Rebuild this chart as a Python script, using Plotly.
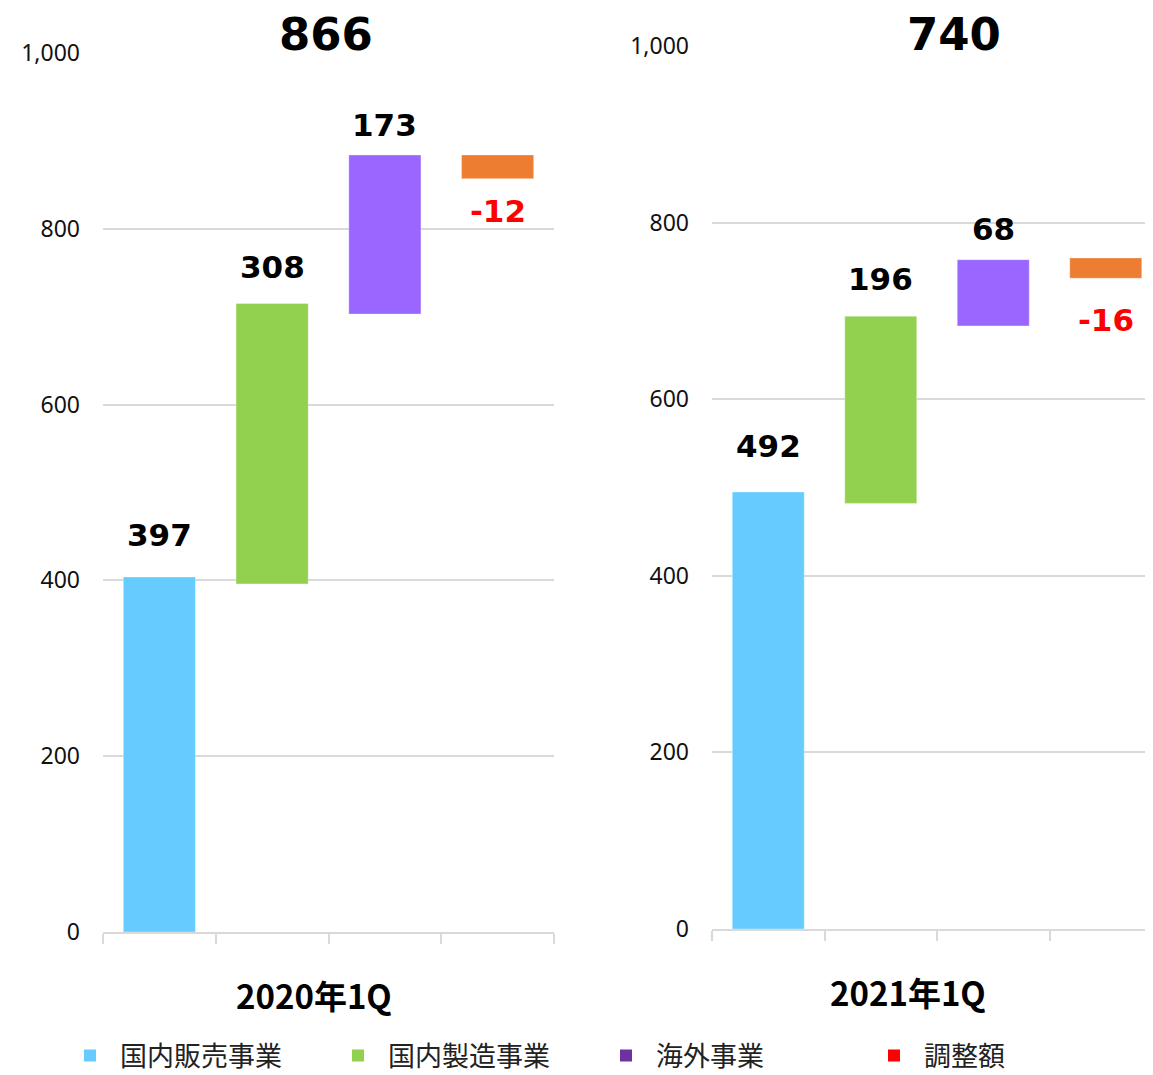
import plotly.graph_objects as go

# page body has an 8px margin; figure sized to fit the window
OFF = 8
W, H = 1153 - OFF, 1075 - OFF

# ---- data ----
segments = ["国内販売事業", "国内製造事業", "海外事業", "調整額"]
periods = ["2020年1Q", "2021年1Q"]
totals = [866, 740]
labels_2020 = [397, 308, 173, -12]
labels_2021 = [492, 196, 68, -16]
# floating bar extents as drawn in the picture (low, high)
low_2020 = [0, 396, 703, 857]
high_2020 = [404, 715, 884, 884]
low_2021 = [0, 482, 683, 737]
high_2021 = [495, 694, 758, 760]

# styling: label pixel offsets from the bar ends
shift_2020 = [22, 17, 10, -12]
shift_2021 = [26, 17, 11, -22]

bar_colors = ["#66CCFF", "#92D050", "#9966FF", "#ED7D31"]
legend_colors = ["#66CCFF", "#92D050", "#7030A0", "#FF0000"]
y_ticks = [0, 200, 400, 600, 800, 1000]
y_ticktext = ["0", "200", "400", "600", "800", "1,000"]

fig = go.Figure()

def px_x(p):
    return (p - OFF) / W

def px_y(p):
    return (H - (p - OFF)) / H

panels = [
    dict(xa="x", ya="y", low=low_2020, high=high_2020, labels=labels_2020, shift=shift_2020),
    dict(xa="x2", ya="y2", low=low_2021, high=high_2021, labels=labels_2021, shift=shift_2021),
]

for p in panels:
    fig.add_trace(go.Bar(
        x=segments,
        base=p["low"],
        y=[h - l for h, l in zip(p["high"], p["low"])],
        marker=dict(color=bar_colors, line=dict(color="rgba(255,255,255,0.35)", width=1)),
        width=0.64,
        xaxis=p["xa"], yaxis=p["ya"],
        showlegend=False, hoverinfo="skip",
    ))
    for seg, v, lo, hi, sh in zip(segments, p["labels"], p["low"], p["high"], p["shift"]):
        if v >= 0:
            fig.add_annotation(x=seg, y=hi, xref=p["xa"], yref=p["ya"], text=str(v),
                               showarrow=False, yanchor="bottom", yshift=sh,
                               font=dict(family="DejaVu Sans", size=31, color="#000000", weight="bold"))
        else:
            fig.add_annotation(x=seg, y=lo, xref=p["xa"], yref=p["ya"], text=str(v),
                               showarrow=False, yanchor="top", yshift=sh,
                               font=dict(family="DejaVu Sans", size=31, color="#FF0000", weight="bold"))

# legend entries
for name, c in zip(segments, legend_colors):
    fig.add_trace(go.Scatter(x=[None], y=[None], mode="markers", name=name,
                             marker=dict(symbol="square", size=15, color=c),
                             showlegend=True))

# totals
for t, xc in zip(totals, [326, 954]):
    fig.add_annotation(x=px_x(xc), y=px_y(35), xref="paper", yref="paper", text=str(t),
                       showarrow=False, xanchor="center", yanchor="middle",
                       font=dict(family="DejaVu Sans", size=45, color="#000000", weight="bold"))

# period labels
for per, xc, yc in zip(periods, [314, 908], [995, 992]):
    fig.add_annotation(x=px_x(xc), y=px_y(yc), xref="paper", yref="paper", text=per,
                       showarrow=False, xanchor="center", yanchor="middle",
                       font=dict(family="Noto Sans CJK JP", size=33, color="#000000", weight="bold"))

xcommon = dict(type="category", showticklabels=False, ticks="outside", tickson="boundaries",
               ticklen=10, tickcolor="#D9D9D9", tickwidth=2, showline=True, linecolor="#D9D9D9",
               linewidth=2, showgrid=False, zeroline=False, fixedrange=True)
ycommon = dict(tickvals=y_ticks, ticktext=y_ticktext, range=[0, 1000], showgrid=True,
               gridcolor="#D9D9D9", gridwidth=2, zeroline=False, showline=False,
               ticks="", ticklabelstandoff=22,
               tickfont=dict(family="Noto Sans", size=23, color="#111111"))

fig.update_layout(
    width=W, height=H,
    margin=dict(l=0, r=0, t=0, b=0, autoexpand=False),
    paper_bgcolor="white", plot_bgcolor="white",
    barmode="overlay",
    xaxis=dict(domain=[px_x(103), px_x(554)], range=[-0.5, 3.5], anchor="y", **xcommon),
    yaxis=dict(domain=[px_y(932), px_y(53)], anchor="x", **ycommon),
    xaxis2=dict(domain=[px_x(712), 1.0], range=[-0.5, 3.42], anchor="y2", **xcommon),
    yaxis2=dict(domain=[px_y(929), px_y(46)], anchor="x2", **ycommon),
    legend=dict(orientation="h", x=px_x(60), xanchor="left", y=px_y(1056), yanchor="middle",
                font=dict(family="Noto Sans CJK JP", size=27, color="#222222"),
                entrywidth=203, entrywidthmode="pixels", bgcolor="rgba(0,0,0,0)",
                itemwidth=50, itemsizing="constant"),
    showlegend=True,
)

fig.write_html("out.html")
